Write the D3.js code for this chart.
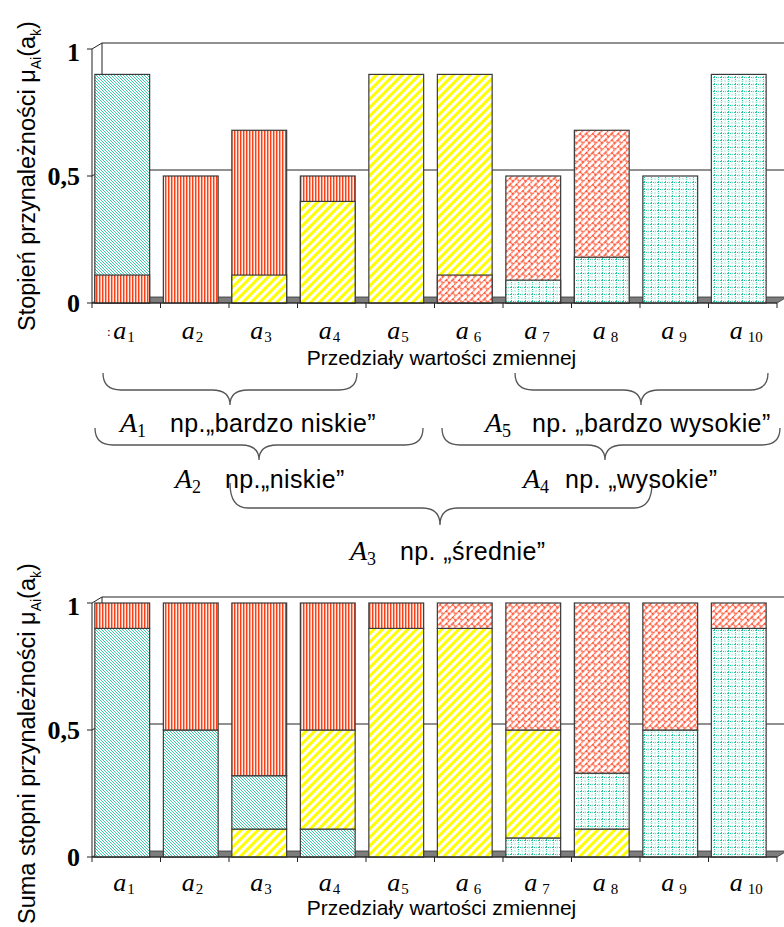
<!DOCTYPE html>
<html>
<head>
<meta charset="utf-8">
<script src="https://cdn.jsdelivr.net/npm/d3@7"></script>
<style>
  body { margin: 0; background: #fff; }
  svg { display: block; }
</style>
</head>
<body>
<div id="chart"></div>
<script>
// ---- data ----
const categories = ["a1", "a2", "a3", "a4", "a5", "a6", "a7", "a8", "a9", "a10"];
const setKeys = ["A1", "A2", "A3", "A4", "A5"];
const yTicks = [0, 0.5, 1];
const yTickLabels = ["0", "0,5", "1"];

// upper chart: membership bars that are visible (drawn back to front, tallest first)
const topA1 = [0.9, 0, 0, 0, 0, 0, 0, 0, 0, 0];
const topA2 = [0.11, 0.5, 0.68, 0.5, 0, 0, 0, 0, 0, 0];
const topA3 = [0, 0, 0.11, 0.4, 0.9, 0.9, 0, 0, 0, 0];
const topA4 = [0, 0, 0, 0, 0, 0.11, 0.5, 0.68, 0, 0];
const topA5 = [0, 0, 0, 0, 0, 0, 0.09, 0.18, 0.5, 0.9];

// lower chart: stacked degrees (each column sums to 1)
const sumA1 = [0.9, 0.5, 0.21, 0.11, 0, 0, 0, 0, 0, 0];
const sumA2 = [0.1, 0.5, 0.68, 0.5, 0.1, 0, 0, 0, 0, 0];
const sumA3 = [0, 0, 0.11, 0.39, 0.9, 0.9, 0.425, 0.11, 0, 0];
const sumA4 = [0, 0, 0, 0, 0, 0.1, 0.5, 0.67, 0.5, 0.1];
const sumA5 = [0, 0, 0, 0, 0, 0, 0.075, 0.22, 0.5, 0.9];
// bottom-to-top order of the pieces in every column
const stackOrder = [
  ["A1", "A2"], ["A1", "A2"], ["A3", "A1", "A2"], ["A1", "A3", "A2"], ["A3", "A2"],
  ["A3", "A4"], ["A5", "A3", "A4"], ["A3", "A5", "A4"], ["A5", "A4"], ["A5", "A4"]
];

const axisTitle = "Przedziały wartości zmiennej";
const braceLabels = [
  {set: "1", text: "np.„bardzo niskie”"},
  {set: "5", text: "np. „bardzo wysokie”"},
  {set: "2", text: "np.„niskie”"},
  {set: "4", text: "np. „wysokie”"},
  {set: "3", text: "np. „średnie”"}
];

// ---- layout ----
const W = 784, H = 927;
const sans = "'Liberation Sans', Arial, sans-serif";
const serif = "'Liberation Serif', 'Times New Roman', serif";
const depth = {dx: 10, dy: -6};

const svg = d3.select("#chart").append("svg")
  .attr("width", W).attr("height", H)
  .style("font-family", sans);

const defs = svg.append("defs");

function pattern(id, w, h, transform) {
  const p = defs.append("pattern")
    .attr("id", id)
    .attr("patternUnits", "userSpaceOnUse")
    .attr("width", w).attr("height", h);
  if (transform) p.attr("patternTransform", transform);
  p.append("rect").attr("width", w).attr("height", h).attr("fill", "#fff");
  return p;
}

// A1: fine teal diagonal "\"
pattern("pA1", 3, 3).append("path")
  .attr("d", "M-1,-1L4,4M-1,2L1,4M2,-1L4,1")
  .attr("stroke", "#25c59c").attr("stroke-width", 0.9);

// A2: red / salmon vertical stripes
const pA2 = pattern("pA2", 3, 3);
pA2.append("rect").attr("x", 0).attr("width", 1).attr("height", 3).attr("fill", "#f5401a");
pA2.append("rect").attr("x", 1).attr("width", 1.2).attr("height", 3).attr("fill", "#ffa088");

// A3: wide yellow "/" stripes
pattern("pA3", 6, 6, "rotate(45)").append("rect")
  .attr("width", 3).attr("height", 6).attr("fill", "#ffff00");

// A4: red diagonal brick
pattern("pA4", 9, 9, "rotate(-45)").append("path")
  .attr("d", "M0,0.5H9M0.5,0V4.5M0,5H9M5,4.5V9")
  .attr("fill", "none")
  .attr("stroke", "#ff4a28").attr("stroke-width", 1.3)
  .attr("stroke-dasharray", "2,0.6");

// A5: dotted teal grid
const pA5 = pattern("pA5", 7, 7);
pA5.append("path").attr("d", "M0,0.5H7M0.5,0V7")
  .attr("stroke", "#22c99c").attr("stroke-width", 1).attr("stroke-dasharray", "1,1");
pA5.append("path").attr("d", "M0,4H7M4,0V7")
  .attr("stroke", "#bdf0e2").attr("stroke-width", 1).attr("stroke-dasharray", "2,1");

const fillOf = k => `url(#p${k})`;

function drawChart(opts) {
  const g = svg.append("g");
  const y = d3.scaleLinear().domain([0, 1]).range([opts.y0, opts.y1]);
  const xTick = d3.scaleBand().domain(categories).range([92, 777]);
  const xBar = d3.scaleBand().domain(categories).range([88, 773])
    .paddingInner(0.2).paddingOuter(0.1);
  const xl = xTick.range()[0], xr = xTick.range()[1];

  // back wall and gridlines
  const wall = g.append("g").attr("stroke", "#222").attr("fill", "none");
  wall.append("path")
    .attr("d", `M${xl},${y(1)}L${xl + depth.dx},${y(1) + depth.dy}H${W + 5}`);
  wall.append("path")
    .attr("d", `M${xl + depth.dx},${y(1) + depth.dy}V${y(0) + depth.dy}`);
  wall.append("path")
    .attr("d", `M${xl},${y(0.5)}L${xl + depth.dx},${y(0.5) + depth.dy}H${W + 5}`);

  // floor
  g.append("path")
    .attr("d", `M${xl},${y(0)}H${xr}L${xr + depth.dx},${y(0) + depth.dy}H${xl + depth.dx}Z`)
    .attr("fill", "#7d7d7d").attr("stroke", "#333").attr("stroke-width", 0.8);

  // bars
  const bars = opts.bars();
  g.append("g").selectAll("rect").data(bars).join("rect")
    .attr("x", d => xBar(d.cat))
    .attr("width", xBar.bandwidth())
    .attr("y", d => y(d.top))
    .attr("height", d => y(d.bottom) - y(d.top))
    .attr("fill", d => fillOf(d.key))
    .attr("stroke", "#3a3a3a").attr("stroke-width", 1.2);

  // axes
  const ax = g.append("g").attr("stroke", "#222").attr("fill", "none");
  ax.append("path").attr("d", `M${xl},${y(1)}V${y(0)}H${xr}`);
  ax.selectAll(".yt").data(yTicks).join("path")
    .attr("d", d => `M${xl - 5},${y(d)}H${xl}`);
  ax.selectAll(".xt").data(categories.concat(["end"])).join("path")
    .attr("d", (d, i) => {
      const x = i < categories.length ? xTick(d) : xr;
      return `M${x},${y(0)}V${y(0) + 5}`;
    });

  g.selectAll(".ylab").data(yTicks).join("text")
    .attr("x", xl - 12)
    .attr("y", d => y(d) + (d === 1 ? 12 : 9))
    .attr("text-anchor", "end")
    .style("font-family", serif).style("font-weight", "bold").style("font-size", "26px")
    .text((d, i) => yTickLabels[i]);

  // category labels a_k
  const lab = g.selectAll(".xlab").data(categories).join("text")
    .attr("x", d => xTick(d) + xTick.bandwidth() / 2 - 13)
    .attr("y", y(0) + opts.labelDy)
    .style("font-family", serif);
  lab.append("tspan").text("a").style("font-style", "italic").style("font-size", "26px");
  lab.append("tspan")
    .attr("dx", (d, i) => i >= 5 ? 5 : 1).attr("dy", 3)
    .style("font-size", "15px")
    .text(d => d.slice(1));

  if (opts.stray) {
    g.append("text").attr("x", xTick(categories[0]) + 15).attr("y", y(0) + opts.labelDy - 3)
      .style("font-family", serif).style("font-size", "13px").text(":");
  }

  g.append("text")
    .attr("x", (xl + xr) / 2 + 7)
    .attr("y", y(0) + opts.titleDy)
    .attr("text-anchor", "middle")
    .style("font-size", "21px")
    .text(axisTitle);

  // y title
  const yt = g.append("text")
    .attr("transform", `translate(${opts.yTitleX},${opts.yTitleStart}) rotate(-90)`)
    .style("font-size", "23.5px");
  yt.append("tspan").text(opts.yTitle + " μ");
  yt.append("tspan").attr("dy", 6).style("font-size", "14px").text("Ai");
  yt.append("tspan").attr("dy", -6).text("(a");
  yt.append("tspan").attr("dy", 6).style("font-size", "14px").text("k");
  yt.append("tspan").attr("dy", -6).text(")");
}

// upper chart
const topSeries = {A1: topA1, A2: topA2, A3: topA3, A4: topA4, A5: topA5};
drawChart({
  y0: 303, y1: 49, labelDy: 36, titleDy: 62,
  yTitle: "Stopień przynależności", yTitleX: 35, yTitleStart: 331, stray: true,
  bars: () => categories.flatMap((c, i) =>
    setKeys.filter(k => topSeries[k][i] > 0)
      .sort((a, b) => topSeries[b][i] - topSeries[a][i])
      .map(k => ({cat: c, key: k, bottom: 0, top: topSeries[k][i]})))
});

// lower chart
const sumSeries = {A1: sumA1, A2: sumA2, A3: sumA3, A4: sumA4, A5: sumA5};
drawChart({
  y0: 857, y1: 603, labelDy: 34, titleDy: 58,
  yTitle: "Suma stopni przynależności", yTitleX: 35, yTitleStart: 924, stray: false,
  bars: () => categories.flatMap((c, i) => {
    let acc = 0;
    return stackOrder[i].map(k => {
      const b = acc;
      acc += sumSeries[k][i];
      return {cat: c, key: k, bottom: b, top: acc};
    });
  })
});

// ---- braces and fuzzy set names ----
function bracePath(b) {
  const r = Math.min(18, (b.xm - b.x1) / 3);
  return `M${b.x1},${b.y0}Q${b.x1},${b.yh} ${b.x1 + r},${b.yh}` +
    `L${b.xm - r},${b.yh}Q${b.xm},${b.yh} ${b.xm},${b.yt}` +
    `Q${b.xm},${b.yh} ${b.xm + r},${b.yh}` +
    `L${b.x2 - r},${b.yh}Q${b.x2},${b.yh} ${b.x2},${b.y0}`;
}
const braces = [
  {x1: 103, x2: 357, xm: 230, y0: 373, yh: 390, yt: 405, lx: 120, tx: 170, ly: 432},
  {x1: 515, x2: 768, xm: 641, y0: 373, yh: 390, yt: 405, lx: 485, tx: 532, ly: 432},
  {x1: 95, x2: 423, xm: 259, y0: 428, yh: 445, yt: 460, lx: 175, tx: 225, ly: 488},
  {x1: 442, x2: 780, xm: 605, y0: 428, yh: 445, yt: 460, lx: 523, tx: 565, ly: 488},
  {x1: 230, x2: 652, xm: 440, y0: 483, yh: 508, yt: 525, lx: 350, tx: 400, ly: 560}
];
const ann = svg.append("g");
ann.selectAll("path").data(braces).join("path")
  .attr("d", bracePath)
  .attr("fill", "none").attr("stroke", "#555").attr("stroke-width", 1.3);

braces.forEach((b, i) => {
  const t = ann.append("text").attr("x", b.lx).attr("y", b.ly).style("font-family", serif);
  t.append("tspan").style("font-style", "italic").style("font-size", "28px").text("A");
  t.append("tspan").attr("dy", 5).style("font-size", "18px").text(braceLabels[i].set);
  ann.append("text").attr("x", b.tx).attr("y", b.ly)
    .style("font-size", "25px").style("letter-spacing", "0.4px")
    .text(braceLabels[i].text);
});
</script>
</body>
</html>
